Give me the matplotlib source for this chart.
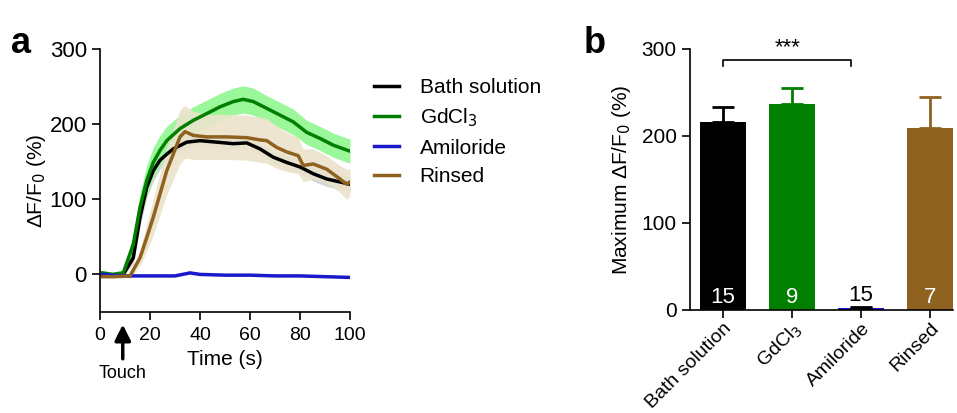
import matplotlib
matplotlib.use("Agg")
import matplotlib.pyplot as plt
import numpy as np

plt.rcParams['font.family'] = ['Liberation Sans', 'DejaVu Sans']
plt.rcParams['font.size'] = 15

# ==== panel a: time courses ====
t_bath = [1, 5, 9.3, 13.3, 16, 18.7, 21.3, 24, 26.7, 29.3, 34.7, 40, 46.7, 53.3, 58.7, 64, 69.3, 74.7, 80, 85.3, 90.7, 96, 100]
y_bath = [0, -1, 0, 22, 76, 116, 138, 152, 160, 167, 176, 178, 176, 174, 175, 167, 156, 149, 143, 134, 127, 123, 120]
e_bath = [2, 2, 2, 8, 12, 14, 14, 12, 11, 10, 8, 8, 8, 8, 8, 8, 8, 9, 9, 10, 10, 10, 10]

t_gd = [1, 5, 9.3, 13.3, 16, 18.7, 21.3, 24, 26.7, 32, 37.3, 42.7, 48, 53.3, 57.3, 61.3, 66.7, 72, 77.3, 82.7, 88, 93.3, 100]
y_gd = [2, 0, 2, 40, 89, 125, 149, 165, 178, 194, 205, 214, 223, 230, 233, 230, 221, 212, 203, 189, 181, 172, 164]
e_gd = [3, 3, 4, 12, 18, 20, 20, 20, 19, 18, 18, 18, 18, 18, 18, 18, 17, 17, 17, 16, 16, 16, 16]

t_ami = [1, 5, 10, 20, 30, 33, 36, 40, 50, 60, 70, 80, 90, 100]
y_ami = [0, -1, -2, -2, -2, 0, 2, 0, -1, -1, -2, -2, -3, -4]

t_rin = [1, 5, 12, 16, 18.7, 21.3, 24, 26.7, 29.3, 32, 34, 37.3, 42.7, 50.7, 58.7, 64, 66.7, 70.7, 74.7, 79.3, 81.3, 85.3, 90.7, 96, 98.7, 100]
y_rin = [-3, -3, -2, 22, 49, 76, 107, 138, 160, 183, 190, 185, 183, 183, 182, 179, 178, 169, 163, 158, 145, 147, 140, 127, 120, 123]
e_rin = [2, 2, 3, 10, 18, 24, 28, 32, 34, 36, 35, 32, 30, 30, 30, 30, 30, 28, 26, 24, 22, 20, 18, 18, 20, 18]

# ==== panel b: maximum response ====
groups = ["Bath solution", "GdCl$_3$", "Amiloride", "Rinsed"]
max_mean = [216, 237, 2, 209]
max_sem = [17, 18, 2, 36]
n_cells = [15, 9, 15, 7]

c_bath, c_gd, c_ami, c_rin = "#000000", "#007f00", "#1a1acc", "#8f6220"

fig = plt.figure(figsize=(9.57, 4.13), dpi=100)
ax = fig.add_axes([0.1045, 0.2446, 0.2612, 0.6368])

# SEM bands
ax.fill_between(t_bath, np.array(y_bath) - e_bath, np.array(y_bath) + e_bath,
                color="#d6d6d6", lw=0)
ax.fill_between(t_gd, np.array(y_gd) - e_gd, np.array(y_gd) + e_gd,
                color="#9af79a", lw=0)
ax.fill_between(t_rin, np.array(y_rin) - e_rin, np.array(y_rin) + e_rin,
                color="#ebe3cb", lw=0, alpha=0.9)

ax.plot(t_bath, y_bath, color=c_bath, lw=2.5, label="Bath solution")
ax.plot(t_gd, y_gd, color=c_gd, lw=2.5, label="GdCl$_3$")
ax.plot(t_ami, y_ami, color=c_ami, lw=2.5, label="Amiloride")
ax.plot(t_rin, y_rin, color=c_rin, lw=2.5, label="Rinsed")

ax.set_xlim(0, 100)
ax.set_ylim(-50, 300)
ax.set_xticks([0, 20, 40, 60, 80, 100])
ax.set_yticks([0, 100, 200, 300])
ax.spines["top"].set_visible(False)
ax.spines["right"].set_visible(False)
ax.spines["left"].set_linewidth(1.2)
ax.spines["bottom"].set_linewidth(1.2)
ax.tick_params(direction="out", length=6, width=1.2, labelsize=16)
ax.tick_params(axis="x", labelsize=14, pad=5)
ax.set_xlabel("Time (s)", fontsize=15, labelpad=4)
ax.set_ylabel("ΔF/F$_0$ (%)", fontsize=15, labelpad=1)
ax.legend(loc="upper left", bbox_to_anchor=(1.02, 0.96), frameon=False,
          fontsize=15, handlelength=1.2, handletextpad=1.0, labelspacing=0.45)

# touch arrow
ax.annotate("", xy=(9.1, -63), xytext=(9.1, -116), xycoords="data",
            arrowprops=dict(arrowstyle="-|>", color="black", lw=2.5, mutation_scale=24),
            annotation_clip=False)
ax.text(9.1, -132, "Touch", ha="center", va="center", fontsize=13, clip_on=False)
fig.text(0.012, 0.895, "a", fontsize=26, fontweight="bold", va="center")

# ==== panel b ====
bx = fig.add_axes([0.721, 0.2494, 0.2748, 0.6320])
xpos = np.arange(len(groups))
cols = [c_bath, c_gd, c_ami, c_rin]
bx.bar(xpos, max_mean, width=0.66, color=cols, zorder=2)
for i in range(len(groups)):
    ecol = "black" if i == 2 else cols[i]
    bx.errorbar(xpos[i], max_mean[i], yerr=[[0], [max_sem[i]]], color=ecol,
                capsize=8, elinewidth=2, capthick=2, zorder=3)
    tcol = "black" if i == 2 else "white"
    ty = 5 if i == 2 else 2
    bx.text(xpos[i], ty, str(n_cells[i]), ha="center", va="bottom", color=tcol,
            fontsize=16, zorder=4)

bx.set_xlim(-0.48, 3.33)
bx.set_ylim(0, 300)
bx.set_yticks([0, 100, 200, 300])
bx.set_xticks(xpos)
bx.set_xticklabels(groups, rotation=45, ha="right", rotation_mode="anchor")
bx.spines["top"].set_visible(False)
bx.spines["right"].set_visible(False)
bx.spines["left"].set_linewidth(1.2)
bx.spines["bottom"].set_linewidth(1.2)
bx.tick_params(direction="out", length=6, width=1.2, labelsize=15)
bx.tick_params(axis="x", labelsize=14, pad=1)
bx.set_ylabel("Maximum ΔF/F$_0$ (%)", fontsize=15, labelpad=6)

# significance bracket
bx.plot([0, 0, 1.855, 1.855], [280, 287, 287, 280], color="black", lw=1.2, clip_on=False)
bx.text(0.93, 289, "***", ha="center", va="bottom", fontsize=16)
fig.text(0.61, 0.895, "b", fontsize=26, fontweight="bold", va="center")

fig.savefig("out.png", dpi=100)
